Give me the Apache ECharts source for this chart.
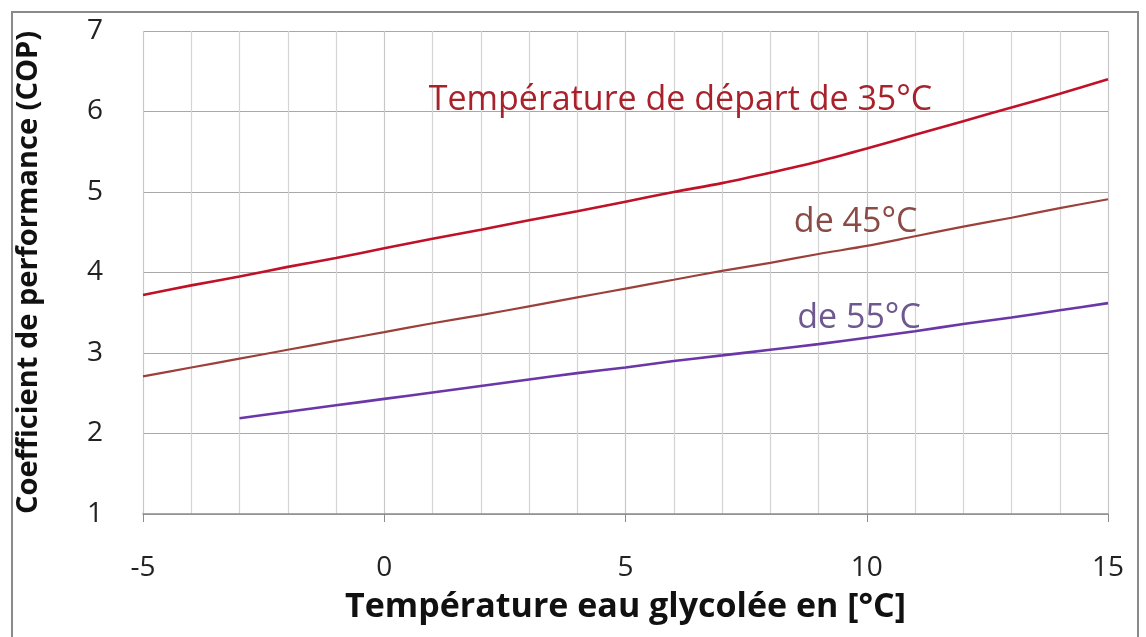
<!DOCTYPE html>
<html>
<head>
<meta charset="utf-8">
<script src="https://cdn.jsdelivr.net/npm/echarts@6/dist/echarts.min.js"></script>
<style>
html,body{margin:0;padding:0;background:#fff;}
#chart{width:1146px;height:637px;}
</style>
</head>
<body>
<div id="chart"></div>
<script>
// ---- data ----
const xValues35 = [-5,-4,-3,-2,-1,0,1,2,3,4,5,6,7,8,9,10,11,12,13,14,15];
const cop35 = [3.72,3.84,3.95,4.07,4.18,4.30,4.42,4.53,4.65,4.76,4.88,5.00,5.11,5.24,5.38,5.54,5.71,5.88,6.05,6.22,6.40];
const xValues45 = [-5,-4,-3,-2,-1,0,1,2,3,4,5,6,7,8,9,10,11,12,13,14,15];
const cop45 = [2.71,2.82,2.93,3.04,3.15,3.26,3.37,3.47,3.58,3.69,3.80,3.91,4.02,4.12,4.23,4.33,4.45,4.57,4.68,4.80,4.91];
const xValues55 = [-3,-2,-1,0,1,2,3,4,5,6,7,8,9,10,11,12,13,14,15];
const cop55 = [2.19,2.27,2.35,2.43,2.51,2.59,2.67,2.75,2.82,2.90,2.97,3.04,3.11,3.19,3.27,3.36,3.44,3.53,3.62];
const xTickLabels = [-5,0,5,10,15];
const yTickLabels = [1,2,3,4,5,6,7];
const seriesNames = ['Température de départ de 35°C','de 45°C','de 55°C'];

const pairs = (xs, ys) => xs.map((x,i)=>[x, ys[i]]);

const chart = echarts.init(document.getElementById('chart'), null, {renderer:'canvas'});
const labelFont = '"Open Sans", sans-serif';

function annot(name, coord, color){
  return {
    silent:true,
    symbol:'circle',
    symbolSize:1,
    itemStyle:{color:'rgba(0,0,0,0)'},
    label:{show:true, position:'inside', color:color,
        fontFamily:labelFont, fontSize:34, fontWeight:'normal', formatter:name},
    data:[{coord:coord, value:0}]
  };
}

chart.setOption({
  animation:false,
  backgroundColor:'#ffffff',
  graphic:[{type:'rect', shape:{x:12,y:12,width:1126,height:640},
    style:{fill:'none', stroke:'#8a8a8a', lineWidth:2}, silent:true, z:-1}],
  grid:{left:143, right:38, top:31, bottom:123},
  xAxis:{
    type:'value', min:-5, max:15, interval:5,
    name:'Température eau glycolée en [°C]', nameLocation:'middle', nameGap:76,
    nameTextStyle:{fontFamily:labelFont, fontSize:34, fontWeight:'bold', color:'#111'},
    axisLine:{show:true, onZero:false, lineStyle:{color:'#8c8c8c', width:1.5}},
    axisTick:{show:true, length:8, lineStyle:{color:'#8c8c8c'}},
    axisLabel:{margin:40, fontFamily:labelFont, fontSize:28, color:'#222',
      formatter:v => xTickLabels.includes(v) ? String(v) : ''},
    splitLine:{show:true, lineStyle:{color:'#c8c8c8', width:1.2}},
    minorTick:{show:false, splitNumber:5},
    minorSplitLine:{show:true, lineStyle:{color:'#d4d4d4', width:1.2}}
  },
  yAxis:{
    type:'value', min:1, max:7, interval:1,
    name:'Coefficient de performance (COP)', nameLocation:'middle', nameGap:100,
    nameTextStyle:{fontFamily:labelFont, fontSize:29, fontWeight:'bold', color:'#111'},
    axisLine:{show:false},
    axisTick:{show:false},
    axisLabel:{margin:40, fontFamily:labelFont, fontSize:28, color:'#222',
      formatter:v => yTickLabels.includes(v) ? String(v) : ''},
    splitLine:{show:true, lineStyle:{color:'#a8a8a8', width:1.2}}
  },
  series:[
    {name:seriesNames[0], type:'line', data:pairs(xValues35,cop35), smooth:0.3, showSymbol:false,
      lineStyle:{color:'#c01128', width:2.6}, markPoint:annot(seriesNames[0],[6.14,6.14],'#a8222c')},
    {name:seriesNames[1], type:'line', data:pairs(xValues45,cop45), smooth:0.3, showSymbol:false,
      lineStyle:{color:'#9c403b', width:2.2}, markPoint:annot(seriesNames[1],[9.77,4.62],'#8a4a45')},
    {name:seriesNames[2], type:'line', data:pairs(xValues55,cop55), smooth:0.3, showSymbol:false,
      lineStyle:{color:'#6b37a8', width:2.6}, markPoint:annot(seriesNames[2],[9.84,3.43],'#6e5890')}
  ]
});
</script>
</body>
</html>
